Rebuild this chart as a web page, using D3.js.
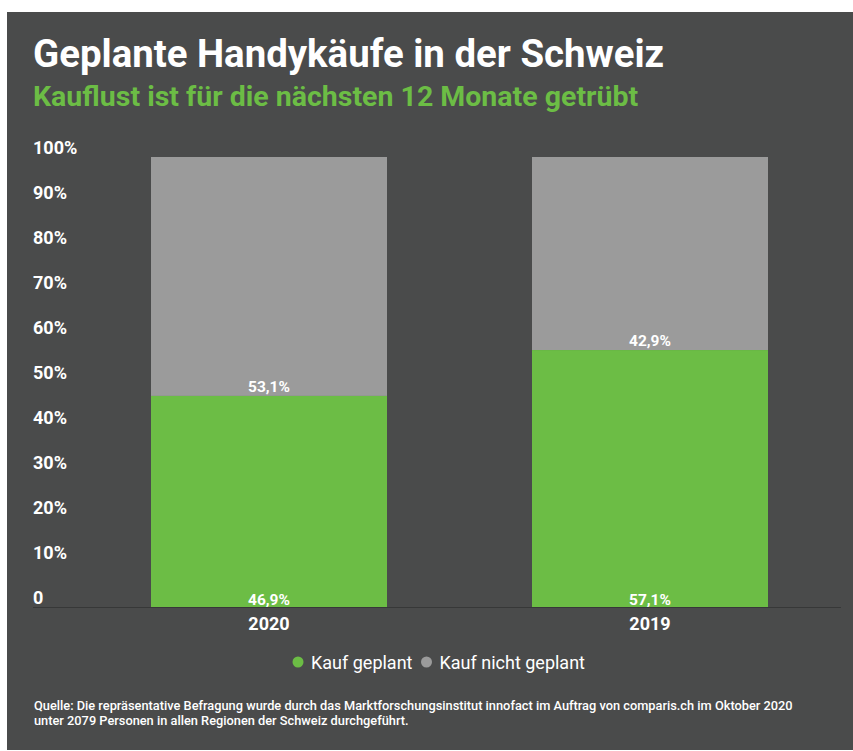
<!DOCTYPE html>
<html>
<head>
<meta charset="utf-8">
<script src="https://cdn.jsdelivr.net/npm/d3@7"></script>
<style>
  html, body { margin: 0; padding: 0; background: #fff; }
  svg text { font-family: Roboto, "Noto Sans", sans-serif; }
</style>
</head>
<body>
<svg id="chart" width="853" height="751"></svg>
<script>
"use strict";

// data
var years = ["2020", "2019"];
var kaufGeplant = [46.9, 57.1];
var kaufNichtGeplant = [53.1, 42.9];
var seriesNames = ["Kauf geplant", "Kauf nicht geplant"];
var yTicks = [0, 10, 20, 30, 40, 50, 60, 70, 80, 90, 100];

var colGreen = "#6cbd45";
var colGrey = "#9b9b9b";
var colBg = "#4a4b4b";

var svg = d3.select("#chart");

// panel
svg.append("rect")
    .attr("x", 7).attr("y", 12)
    .attr("width", 846).attr("height", 738)
    .attr("fill", colBg);

// titles
svg.append("text")
    .attr("x", 33).attr("y", 67)
    .attr("fill", "#fff")
    .attr("font-size", 38.4).attr("font-weight", 700)
    .text("Geplante Handykäufe in der Schweiz");

svg.append("text")
    .attr("x", 33).attr("y", 106)
    .attr("fill", colGreen)
    .attr("font-size", 28.5).attr("font-weight", 700)
    .text("Kauflust ist für die nächsten 12 Monate getrübt");

// scales
var x = d3.scaleBand().domain(years).range([78, 841])
    .paddingInner(0.3806).paddingOuter(0.1916);
var y = d3.scaleLinear().domain([0, 100]).range([607, 157]);

// y labels (left aligned, sitting above their tick)
svg.append("g").selectAll("text")
    .data(yTicks)
    .enter()
    .append("text")
    .attr("x", 33)
    .attr("y", function (d) { return y(d) - 3; })
    .attr("fill", "#fff")
    .attr("font-size", 18).attr("font-weight", 700)
    .text(function (d) { return d === 0 ? "0" : d + "%"; });

// stacked rows
var rows = years.map(function (yr, i) {
    return { year: yr, a: kaufGeplant[i], b: kaufNichtGeplant[i] };
});

var bars = svg.append("g").selectAll("g")
    .data(rows)
    .enter()
    .append("g");

bars.append("rect")
    .attr("x", function (d) { return x(d.year); })
    .attr("width", x.bandwidth())
    .attr("y", function (d) { return y(d.a + d.b); })
    .attr("height", function (d) { return y(d.a) - y(d.a + d.b); })
    .attr("fill", colGrey);

bars.append("rect")
    .attr("x", function (d) { return x(d.year); })
    .attr("width", x.bandwidth())
    .attr("y", function (d) { return y(d.a); })
    .attr("height", function (d) { return y(0) - y(d.a); })
    .attr("fill", colGreen);

function fmt(v) { return v.toFixed(1).replace(".", ",") + "%"; }

// value labels at the base of each segment
bars.append("text")
    .attr("x", function (d) { return x(d.year) + x.bandwidth() / 2; })
    .attr("y", function () { return y(0) - 2.5; })
    .attr("text-anchor", "middle")
    .attr("fill", "#fff")
    .attr("font-size", 15.5).attr("font-weight", 700)
    .text(function (d) { return fmt(d.a); });

bars.append("text")
    .attr("x", function (d) { return x(d.year) + x.bandwidth() / 2; })
    .attr("y", function (d) { return y(d.a) - 4; })
    .attr("text-anchor", "middle")
    .attr("fill", "#fff")
    .attr("font-size", 15.5).attr("font-weight", 700)
    .text(function (d) { return fmt(d.b); });

// baseline
svg.append("line")
    .attr("x1", 33).attr("x2", 841)
    .attr("y1", y(0) + 0.5).attr("y2", y(0) + 0.5)
    .attr("stroke", "#373838").attr("stroke-width", 1);

// x labels
svg.append("g").selectAll("text")
    .data(years)
    .enter()
    .append("text")
    .attr("x", function (d) { return x(d) + x.bandwidth() / 2; })
    .attr("y", 630)
    .attr("text-anchor", "middle")
    .attr("fill", "#fff")
    .attr("font-size", 18).attr("font-weight", 700)
    .text(function (d) { return d; });

// legend
var legend = svg.append("g").attr("transform", "translate(298,662)");
var lx = 0;
seriesNames.forEach(function (name, i) {
    var item = legend.append("g").attr("transform", "translate(" + lx + ",0)");
    item.append("circle")
        .attr("cx", 0).attr("cy", 0).attr("r", 5.5)
        .attr("fill", i === 0 ? colGreen : colGrey);
    var t = item.append("text")
        .attr("x", 13).attr("y", 6.5)
        .attr("fill", "#fff")
        .attr("font-size", 18)
        .text(name);
    lx += 13 + t.node().getComputedTextLength() + 14;
});

// source
var source = [
    "Quelle: Die repräsentative Befragung wurde durch das Marktforschungsinstitut innofact im Auftrag von comparis.ch im Oktober 2020",
    "unter 2079 Personen in allen Regionen der Schweiz durchgeführt."
];
svg.append("g").selectAll("text")
    .data(source)
    .enter()
    .append("text")
    .attr("x", 34)
    .attr("y", function (d, i) { return 710 + i * 14.5; })
    .attr("fill", "#fff")
    .attr("font-size", 12.8).attr("font-weight", 500)
    .text(function (d) { return d; });
</script>
</body>
</html>
